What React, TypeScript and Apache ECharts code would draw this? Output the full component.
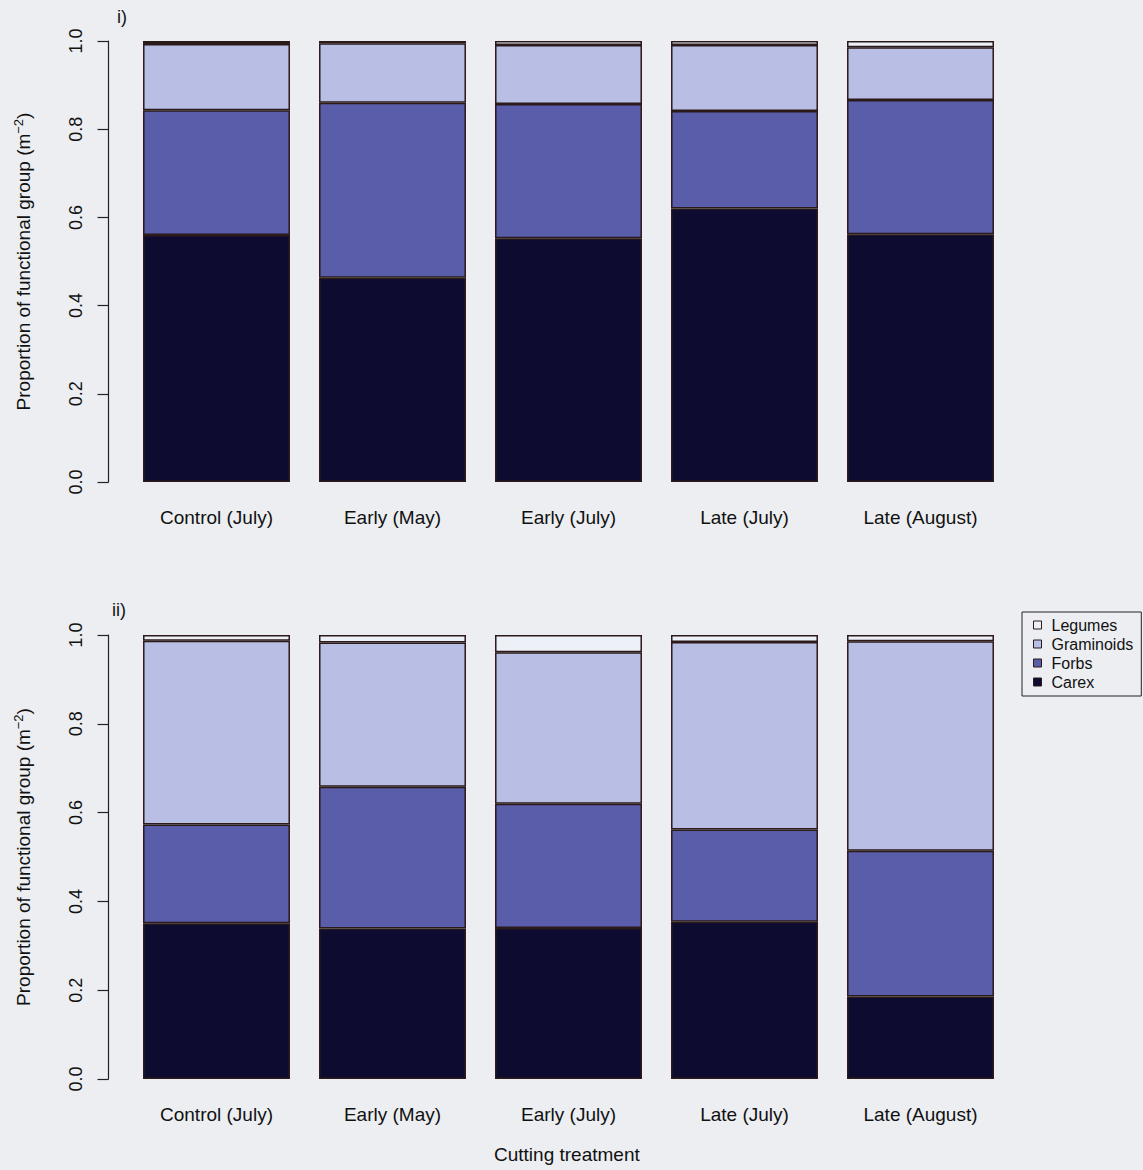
import React, { useEffect, useRef } from "react";
import * as echarts from "echarts";

const categories = ["Control (July)", "Early (May)", "Early (July)", "Late (July)", "Late (August)"];
const groupNames = ["Legumes", "Graminoids", "Forbs", "Carex"];
const yTicks = [0, 0.2, 0.4, 0.6, 0.8, 1.0];

// Panel i)
const carexI = [0.56, 0.463, 0.553, 0.62, 0.562];
const forbsI = [0.283, 0.397, 0.304, 0.221, 0.304];
const graminoidsI = [0.15, 0.135, 0.134, 0.15, 0.12];
const legumesI = [0.007, 0.005, 0.009, 0.009, 0.014];

// Panel ii)
const carexII = [0.351, 0.339, 0.34, 0.354, 0.186];
const forbsII = [0.222, 0.319, 0.28, 0.208, 0.328];
const graminoidsII = [0.414, 0.325, 0.341, 0.422, 0.472];
const legumesII = [0.013, 0.017, 0.039, 0.016, 0.014];

const colors: Record<string, string> = {
  Carex: "#0d0b30",
  Forbs: "#5a5da9",
  Graminoids: "#b8bee4",
  Legumes: "#eef0f8",
};

const FONT = "Liberation Sans";
const BG = "#eceef2";

export default function App() {
  const ref = useRef<HTMLDivElement>(null);
  useEffect(() => {
    if (!ref.current) return;
    const chart = echarts.init(ref.current, undefined, { renderer: "svg" });

    const grids = [
      { left: 128.5, width: 880, top: 41, height: 441 },
      { left: 128.5, width: 880, top: 635, height: 444 },
    ];

    const mkX = (i: number) => ({
      type: "category",
      gridIndex: i,
      data: categories,
      axisLine: { show: false },
      axisTick: { show: false },
      axisLabel: { fontFamily: FONT, fontSize: 19, color: "#111", margin: 26 },
    });
    const mkY = (i: number) => ({
      type: "value",
      gridIndex: i,
      min: yTicks[0],
      max: yTicks[yTicks.length - 1],
      interval: 0.2,
      offset: 20,
      splitLine: { show: false },
      axisLine: { show: true, lineStyle: { color: "#222", width: 1.2 } },
      axisTick: { show: true, length: 11, lineStyle: { color: "#222", width: 1.2 } },
      axisLabel: {
        fontFamily: FONT,
        fontSize: 18,
        color: "#111",
        rotate: 90,
        margin: 24,
        formatter: (v: number) => v.toFixed(1),
      },
      name: "Proportion of functional group (m{sup|−2})",
      nameLocation: "middle",
      nameRotate: 90,
      nameGap: 74,
      nameTextStyle: {
        fontFamily: FONT,
        fontSize: 19,
        color: "#111",
        rich: {
          sup: { fontFamily: FONT, fontSize: 13, color: "#111", padding: [0, 0, 10, 0] },
        },
      },
    });

    const panels = [
      { Carex: carexI, Forbs: forbsI, Graminoids: graminoidsI, Legumes: legumesI },
      { Carex: carexII, Forbs: forbsII, Graminoids: graminoidsII, Legumes: legumesII },
    ];
    const stackOrder = ["Carex", "Forbs", "Graminoids", "Legumes"];
    const series: any[] = [];
    panels.forEach((p: any, i) => {
      stackOrder.forEach((name) => {
        series.push({
          type: "bar",
          name,
          xAxisIndex: i,
          yAxisIndex: i,
          stack: "s" + i,
          barWidth: "83.5%",
          data: p[name],
          itemStyle: { color: colors[name], borderColor: "#2a1a1a", borderWidth: 1.5 },
        });
      });
    });

    chart.setOption({
      animation: false,
      backgroundColor: BG,
      textStyle: { fontFamily: FONT },
      grid: grids,
      xAxis: [mkX(0), mkX(1)],
      yAxis: [mkY(0), mkY(1)],
      legend: {
        data: groupNames,
        orient: "vertical",
        left: 1022,
        top: 612,
        icon: "rect",
        itemWidth: 8,
        itemHeight: 8,
        itemGap: 3,
        padding: [5, 8, 6, 11],
        borderColor: "#222",
        borderWidth: 1,
        backgroundColor: BG,
        formatter: "{t|{name}}",
        textStyle: {
          fontFamily: FONT,
          fontSize: 16,
          color: "#111",
          rich: { t: { fontFamily: FONT, fontSize: 16, color: "#111", padding: [0, 0, 0, 5] } },
        },
        itemStyle: { borderColor: "#2a1a1a", borderWidth: 1 },
      },
      graphic: [
        { type: "text", left: 117, top: 8, style: { text: "i)", font: `18px "${FONT}"`, fill: "#111" } },
        { type: "text", left: 112, top: 601, style: { text: "ii)", font: `18px "${FONT}"`, fill: "#111" } },
        {
          type: "text",
          left: 494,
          top: 1145,
          style: { text: "Cutting treatment", font: `19px "${FONT}"`, fill: "#111" },
        },
      ],
      series,
    });
    return () => chart.dispose();
  }, []);

  return (
    <div
      ref={ref}
      style={{ position: "fixed", left: 0, top: 0, width: 1143, height: 1170, background: BG }}
    />
  );
}
